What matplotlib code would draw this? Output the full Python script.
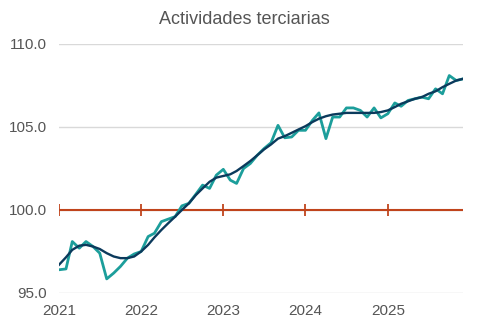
import numpy as np
import pandas as pd
import matplotlib
matplotlib.use("Agg")
import matplotlib.pyplot as plt

plt.rcParams['font.family'] = ['Liberation Sans', 'DejaVu Sans']

# Monthly index, Jan 2021 - Dec 2025
months = pd.date_range('2021-01-01', periods=60, freq='MS')

serie = [96.4, 96.45, 98.1, 97.7, 98.1, 97.8, 97.4, 95.85, 96.2, 96.6,
         97.1, 97.35, 97.5, 98.4, 98.6, 99.3, 99.45, 99.6, 100.25, 100.4,
         100.95, 101.5, 101.3, 102.1, 102.45, 101.8, 101.6, 102.5, 102.8, 103.3,
         103.7, 104.05, 105.1, 104.35, 104.4, 104.8, 104.8, 105.4, 105.85, 104.3,
         105.6, 105.6, 106.15, 106.15, 106.0, 105.6, 106.15, 105.55, 105.8, 106.45,
         106.25, 106.6, 106.7, 106.8, 106.7, 107.3, 107.0, 108.1, 107.8, 107.9]

tendencia = [96.7, 97.15, 97.6, 97.85, 97.9, 97.8, 97.65, 97.4, 97.2, 97.1,
             97.1, 97.2, 97.5, 97.9, 98.35, 98.8, 99.2, 99.6, 100.0, 100.4,
             100.9, 101.3, 101.7, 101.95, 102.05, 102.15, 102.35, 102.65, 102.95, 103.3,
             103.65, 103.95, 104.3, 104.45, 104.65, 104.85, 105.05, 105.3, 105.5, 105.65,
             105.75, 105.8, 105.85, 105.85, 105.85, 105.85, 105.85, 105.9, 106.0, 106.2,
             106.4, 106.55, 106.7, 106.8, 107.0, 107.15, 107.4, 107.6, 107.8, 107.9]

base = 100.0
years = pd.to_datetime(['2021-01-01', '2022-01-01', '2023-01-01', '2024-01-01', '2025-01-01'])
year_labels = ['2021', '2022', '2023', '2024', '2025']
yticks = [95, 100, 105, 110]

W, H = 489, 329
fig = plt.figure(figsize=(W / 100, H / 100), dpi=100)
ax = fig.add_axes([59 / W, 1 - 293 / H, (463 - 59) / W, (293 - 44) / H])

ax.set_ylim(95, 110)
ax.set_xlim(months[0], months[-1])
ax.set_yticks(yticks)
ax.set_yticklabels([f'{v:.1f}' for v in yticks])
ax.set_xticks(years)
ax.set_xticklabels(year_labels)
ax.grid(axis='y', color='#d9d9d9', lw=1)
ax.set_axisbelow(True)
for s in ax.spines.values():
    s.set_visible(False)
ax.tick_params(length=0, labelsize=11, colors='#555555')
ax.tick_params(axis='x', pad=8)
ax.tick_params(axis='y', pad=8.5)

# base line with year marks
ax.axhline(base, color='#c0441c', lw=1.5, zorder=2)
ax.plot(years, [base] * len(years), ls='none', marker='|', ms=8, mew=1.3,
        color='#c0441c', zorder=2)

ax.plot(months, serie, color='#1c9e9b', lw=2, zorder=3)
ax.plot(months, tendencia, color='#0b3a5c', lw=1.7, zorder=4)

fig.text(0.5, 1 - 20 / H, 'Actividades terciarias', ha='center', va='center',
         fontsize=13, color='#555555')

fig.savefig('out.png', dpi=100)
